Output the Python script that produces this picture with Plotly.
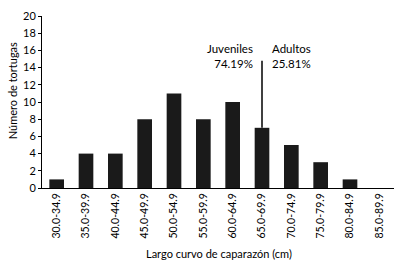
import plotly.graph_objects as go

categories = ["30.0-34.9", "35.0-39.9", "40.0-44.9", "45.0-49.9", "50.0-54.9",
              "55.0-59.9", "60.0-64.9", "65.0-69.9", "70.0-74.9", "75.0-79.9",
              "80.0-84.9", "85.0-89.9"]
counts = [1, 4, 4, 8, 11, 8, 10, 7, 5, 3, 1, 0]
y_ticks = list(range(0, 21, 2))

split_category = "65.0-69.9"
split_top = 14.8
juvenile_label = "Juveniles<br>74.19%"
adult_label = "Adultos<br>25.81%"
x_title = "Largo curvo de caparazón (cm)"
y_title = "Número de tortugas"

FONT = "Lato"
split_idx = categories.index(split_category)

fig = go.Figure()
fig.add_trace(go.Bar(
    x=categories, y=counts, width=0.5,
    marker=dict(color="#1a1a1a", line=dict(width=0)),
    showlegend=False, hoverinfo="x+y",
))
fig.add_trace(go.Scatter(
    x=[split_category, split_category], y=[counts[split_idx], split_top],
    mode="lines", line=dict(color="#000000", width=1.5),
    showlegend=False, hoverinfo="skip",
))

fig.add_annotation(x=split_idx, y=split_top + 0.55, xref="x", yref="y",
                   text=juvenile_label, showarrow=False, align="right",
                   xanchor="right", yanchor="middle", xshift=-7,
                   font=dict(family=FONT, size=11.5, color="#000"))
fig.add_annotation(x=split_idx, y=split_top + 0.55, xref="x", yref="y",
                   text=adult_label, showarrow=False, align="left",
                   xanchor="left", yanchor="middle", xshift=8,
                   font=dict(family=FONT, size=11.5, color="#000"))

# axis titles
fig.add_annotation(x=-0.085, y=0.563, xref="paper", yref="paper",
                   text=y_title, textangle=-90, showarrow=False,
                   xanchor="center", yanchor="middle",
                   font=dict(family=FONT, size=11, color="#000"))
fig.add_annotation(x=0.504, y=-0.378, xref="paper", yref="paper",
                   text=x_title, showarrow=False,
                   xanchor="center", yanchor="middle",
                   font=dict(family=FONT, size=11, color="#000"))

fig.update_layout(
    width=395, height=263,
    margin=dict(l=42, r=1, t=16, b=75, autoexpand=False),
    paper_bgcolor="white", plot_bgcolor="white",
    font=dict(family=FONT, size=10, color="#000"),
    bargap=0.5,
)
fig.update_xaxes(
    type="category", range=[-0.5, len(categories) - 0.5],
    showline=True, linecolor="#000", linewidth=1,
    ticks="", tickangle=-90, tickfont=dict(size=10.5),
    showgrid=False, zeroline=False, automargin=False,
)
fig.update_yaxes(
    range=[0, 20], tickvals=y_ticks,
    showline=True, linecolor="#000", linewidth=1,
    ticks="outside", ticklen=3, tickcolor="#000",
    tickfont=dict(size=11), showgrid=False, zeroline=False, automargin=False,
)

fig.write_html("out.html", config={"displayModeBar": False},
               post_script="document.body.style.margin='0';")
